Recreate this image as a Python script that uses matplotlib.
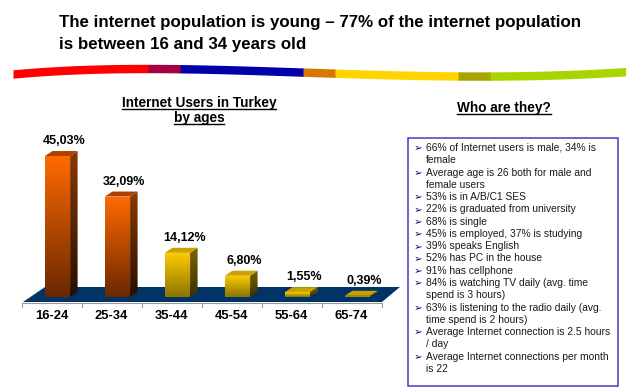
import numpy as np
import matplotlib
matplotlib.use("Agg")
import matplotlib.pyplot as plt
from matplotlib.patches import Polygon, Rectangle
from matplotlib.colors import to_rgb

# data
age_groups = ['16-24', '25-34', '35-44', '45-54', '55-64', '65-74']
shares = [45.03, 32.09, 14.12, 6.80, 1.55, 0.39]
bar_tone = ['orange', 'orange', 'yellow', 'yellow', 'yellow', 'yellow']

title_lines = ["The internet population is young \u2013 77% of the internet population",
               "is between 16 and 34 years old"]
chart_title = ["Internet Users in Turkey", "by ages"]
box_title = "Who are they?"
facts = [
    "66% of Internet users is male, 34% is\nfemale",
    "Average age is 26 both for male and\nfemale users",
    "53% is in A/B/C1 SES",
    "22% is graduated from university",
    "68% is single",
    "45% is employed, 37% is studying",
    "39% speaks English",
    "52% has PC in the house",
    "91% has cellphone",
    "84% is watching TV daily (avg. time\nspend is 3 hours)",
    "63% is listening to the radio daily (avg.\ntime spend is 2 hours)",
    "Average Internet connection is 2.5 hours\n/ day",
    "Average Internet connections per month\nis 22",
]

plt.rcParams['font.family'] = ['Liberation Sans', 'DejaVu Sans']

W, H = 640, 390
fig = plt.figure(figsize=(W / 100, H / 100), dpi=100)
fig.patch.set_facecolor('white')

# overlay in pixel coordinates for the page decorations
deco = fig.add_axes([0, 0, 1, 1], zorder=0)
deco.set_xlim(0, W)
deco.set_ylim(H, 0)
deco.axis('off')

# headline
for k, line in enumerate(title_lines):
    deco.text(59, 22 + k * 22, line, fontsize=12.2, fontweight='bold',
              ha='left', va='center', color='black')

# wavy coloured stripe
ctrl_x = [13, 150, 300, 460, 625]
ctrl_y = [74, 68.5, 72, 76, 71.7]
coef = np.polyfit(ctrl_x, ctrl_y, 4)
stripe_edges = [13, 148, 180, 303, 335, 458, 490, 625]
stripe_cols = ['#FF0000', '#A5003F', '#0000A8', '#D87800', '#FFD400', '#A8A400', '#A8D400']
for c, (a, b) in enumerate(zip(stripe_edges[:-1], stripe_edges[1:])):
    xs = np.linspace(a, b + 0.6, 40)
    yc = np.polyval(coef, xs)
    deco.fill_between(xs, yc - 4.2, yc + 4.2, color=stripe_cols[c], lw=0)


def underlined(x, y, s, size):
    t = deco.text(x, y, s, fontsize=size, fontweight='bold', ha='center',
                  va='baseline', color='black')
    fig.canvas.draw()
    bb = t.get_window_extent().transformed(deco.transData.inverted())
    x0, x1 = sorted([bb.x0, bb.x1])
    deco.plot([x0, x1], [y + 2, y + 2], color='black', lw=1.0)


underlined(199, 107, chart_title[0], 9.8)
underlined(199, 122, chart_title[1], 9.8)
underlined(504, 112, box_title, 9.8)

# facts box
deco.add_patch(Rectangle((408, 138), 210, 248, facecolor='white',
                         edgecolor='#3F3FC0', lw=1.1))
row = 0
for fact in facts:
    for j, part in enumerate(fact.split('\n')):
        yy = 148 + row * 12.27
        if j == 0:
            deco.text(418, yy + 0.3, '\u27a2', fontsize=7.5, ha='center', va='center',
                      color='#101070', family=['DejaVu Sans'])
        deco.text(426, yy, part, fontsize=7.4, ha='left', va='center', color='#1a1a1a')
        row += 1

# bar chart
ax = fig.add_axes([20 / W, 1 - 310 / H, 382 / W, 180 / H], zorder=1)
ax.patch.set_alpha(0)
ax.axis('off')

tones = {
    'orange': dict(front=('#FF6A00', '#6A2800'), side=('#8A3A00', '#260E00'), cap='#B04000'),
    'yellow': dict(front=('#FFCC00', '#8C7400'), side=('#7A6400', '#3A3000'), cap='#C8A200'),
}


def grad_face(verts, top, bottom, z):
    poly = Polygon(verts, closed=True, facecolor='none', edgecolor='none', zorder=z)
    ax.add_patch(poly)
    vs = np.array(verts)
    t = np.linspace(0, 1, 64)[:, None]
    img = (1 - t) * np.array(to_rgb(bottom)) + t * np.array(to_rgb(top))
    im = ax.imshow(img[:, None, :], extent=[vs[:, 0].min(), vs[:, 0].max(),
                                            vs[:, 1].min(), vs[:, 1].max()],
                   origin='lower', aspect='auto', interpolation='bilinear', zorder=z)
    im.set_clip_path(poly)


# floor
ax.add_patch(Polygon([(-0.575, -1.6), (5.408, -1.6), (5.708, 3.2), (-0.208, 3.2)],
                     closed=True, facecolor='#003366', edgecolor='none', zorder=1))
ax.plot([-0.575, 5.408], [-1.85, -1.85], color='#9a9a9a', lw=0.8, zorder=1)
for i in range(len(age_groups) + 1):
    ax.plot([i - 0.59, i - 0.59], [-1.85, -3.1], color='#9a9a9a', lw=0.8, zorder=1)

bw, dx, dy = 0.42, 0.125, 1.6
for i, (v, tone) in enumerate(zip(shares, bar_tone)):
    st = tones[tone]
    x0, x1 = i - bw / 2, i + bw / 2
    grad_face([(x1, 0), (x1 + dx, dy), (x1 + dx, v + dy), (x1, v)], *st['side'], z=2)
    ax.add_patch(Polygon([(x0, v), (x1, v), (x1 + dx, v + dy), (x0 + dx, v + dy)],
                         closed=True, facecolor=st['cap'], edgecolor='none', zorder=3))
    grad_face([(x0, 0), (x1, 0), (x1, v), (x0, v)], *st['front'], z=3)
    ax.text(i + 0.11, v + 4.8, f"{v:.2f}".replace('.', ',') + '%', fontsize=9,
            fontweight='bold', ha='center', va='center', color='black', zorder=5)
    ax.text(i - 0.1, -6.1, age_groups[i], fontsize=9.4, fontweight='bold',
            ha='center', va='center', color='black', zorder=5)

ax.set_xlim(-0.625, 5.742)
ax.set_ylim(-4.15, 53.35)

fig.savefig('out.png', dpi=100, facecolor='white')
